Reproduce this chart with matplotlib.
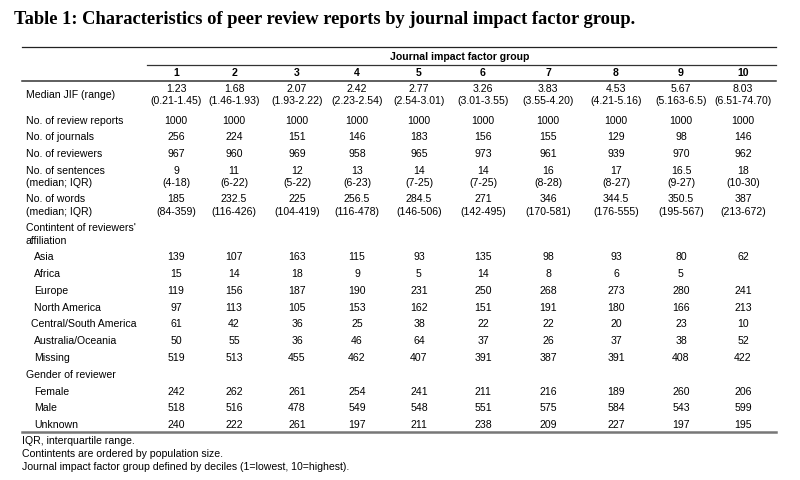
import matplotlib.pyplot as plt

# Table data
groups = ['1', '2', '3', '4', '5', '6', '7', '8', '9', '10']
median_jif = ['1.23', '1.68', '2.07', '2.42', '2.77', '3.26', '3.83', '4.53', '5.67', '8.03']
jif_range = ['(0.21-1.45)', '(1.46-1.93)', '(1.93-2.22)', '(2.23-2.54)', '(2.54-3.01)',
             '(3.01-3.55)', '(3.55-4.20)', '(4.21-5.16)', '(5.163-6.5)', '(6.51-74.70)']
review_reports = [1000, 1000, 1000, 1000, 1000, 1000, 1000, 1000, 1000, 1000]
journals = [256, 224, 151, 146, 183, 156, 155, 129, 98, 146]
reviewers = [967, 960, 969, 958, 965, 973, 961, 939, 970, 962]
sentences_median = ['9', '11', '12', '13', '14', '14', '16', '17', '16.5', '18']
sentences_iqr = ['(4-18)', '(6-22)', '(5-22)', '(6-23)', '(7-25)', '(7-25)', '(8-28)',
                 '(8-27)', '(9-27)', '(10-30)']
words_median = ['185', '232.5', '225', '256.5', '284.5', '271', '346', '344.5', '350.5', '387']
words_iqr = ['(84-359)', '(116-426)', '(104-419)', '(116-478)', '(146-506)', '(142-495)',
             '(170-581)', '(176-555)', '(195-567)', '(213-672)']
continents = ['Asia', 'Africa', 'Europe', 'North America', 'Central/South America',
              'Australia/Oceania', 'Missing']
continent_counts = [
    [139, 107, 163, 115, 93, 135, 98, 93, 80, 62],
    [15, 14, 18, 9, 5, 14, 8, 6, 5, None],
    [119, 156, 187, 190, 231, 250, 268, 273, 280, 241],
    [97, 113, 105, 153, 162, 151, 191, 180, 166, 213],
    [61, 42, 36, 25, 38, 22, 22, 20, 23, 10],
    [50, 55, 36, 46, 64, 37, 26, 37, 38, 52],
    [519, 513, 455, 462, 407, 391, 387, 391, 408, 422],
]
genders = ['Female', 'Male', 'Unknown']
gender_counts = [
    [242, 262, 261, 254, 241, 211, 216, 189, 260, 206],
    [518, 516, 478, 549, 548, 551, 575, 584, 543, 599],
    [240, 222, 261, 197, 211, 238, 209, 227, 197, 195],
]
footnotes = ['IQR, interquartile range.',
             'Contintents are ordered by population size.',
             'Journal impact factor group defined by deciles (1=lowest, 10=highest).']

fig = plt.figure(figsize=(8, 4.81), dpi=100)
ax = fig.add_axes([0, 0, 1, 1])
ax.set_xlim(0, 800)
ax.set_ylim(481, 0)
ax.axis('off')

sans = 'Liberation Sans'
fs = 7.6
col_x = [176, 234, 297, 357, 419, 483, 548, 616, 681, 743]
lab_x = 26
sub_x = 34


def txt(x, y, s, ha='center', **kw):
    ax.text(x, y, s, ha=ha, va='center', family=sans, fontsize=fs, **kw)


def row(y, label, vals, lx=lab_x):
    txt(lx, y, label, ha='left')
    for x, v in zip(col_x, vals):
        if v is not None:
            txt(x, y, str(v))


# title
ax.text(14, 20, 'Table 1: Characteristics of peer review reports by journal impact factor group.',
        ha='left', va='center', family='Liberation Serif', fontweight='bold', fontsize=13.3)

# rules
ax.plot([22, 776], [48, 48], color='#222222', lw=0.9)
ax.plot([147, 776], [66, 66], color='#333333', lw=0.9)
ax.plot([22, 776], [81.5, 81.5], color='#333333', lw=1.1)
ax.plot([22, 776], [432.5, 432.5], color='#777777', lw=1.8)

txt(460, 57, 'Journal impact factor group', fontweight='bold')
for x, g in zip(col_x, groups):
    txt(x, 73.5, g, fontweight='bold')

txt(lab_x, 95, 'Median JIF (range)', ha='left')
for x, m, r in zip(col_x, median_jif, jif_range):
    txt(x, 89, m)
    txt(x, 101, r)

row(121, 'No. of review reports', review_reports)
row(137, 'No. of journals', journals)
row(154, 'No. of reviewers', reviewers)

txt(lab_x, 171, 'No. of sentences', ha='left')
txt(lab_x, 183, '(median; IQR)', ha='left')
for x, m, r in zip(col_x, sentences_median, sentences_iqr):
    txt(x, 171, m)
    txt(x, 183, r)

txt(lab_x, 199, 'No. of words', ha='left')
txt(lab_x, 212, '(median; IQR)', ha='left')
for x, m, r in zip(col_x, words_median, words_iqr):
    txt(x, 199, m)
    txt(x, 212, r)

txt(lab_x, 228, "Contintent of reviewers'", ha='left')
txt(lab_x, 241, 'affiliation', ha='left')
for i, (name, vals) in enumerate(zip(continents, continent_counts)):
    lx = 31 if name.startswith('Central') else sub_x
    row(257.5 + i * 16.75, name, vals, lx)

txt(lab_x, 375, 'Gender of reviewer', ha='left')
for i, (name, vals) in enumerate(zip(genders, gender_counts)):
    row(392 + i * 16.5, name, vals, sub_x)

for i, f in enumerate(footnotes):
    ax.text(22, 441 + i * 12.8, f, ha='left', va='center', family=sans, fontsize=7.6)

fig.savefig('out.png', dpi=100, facecolor='white')
